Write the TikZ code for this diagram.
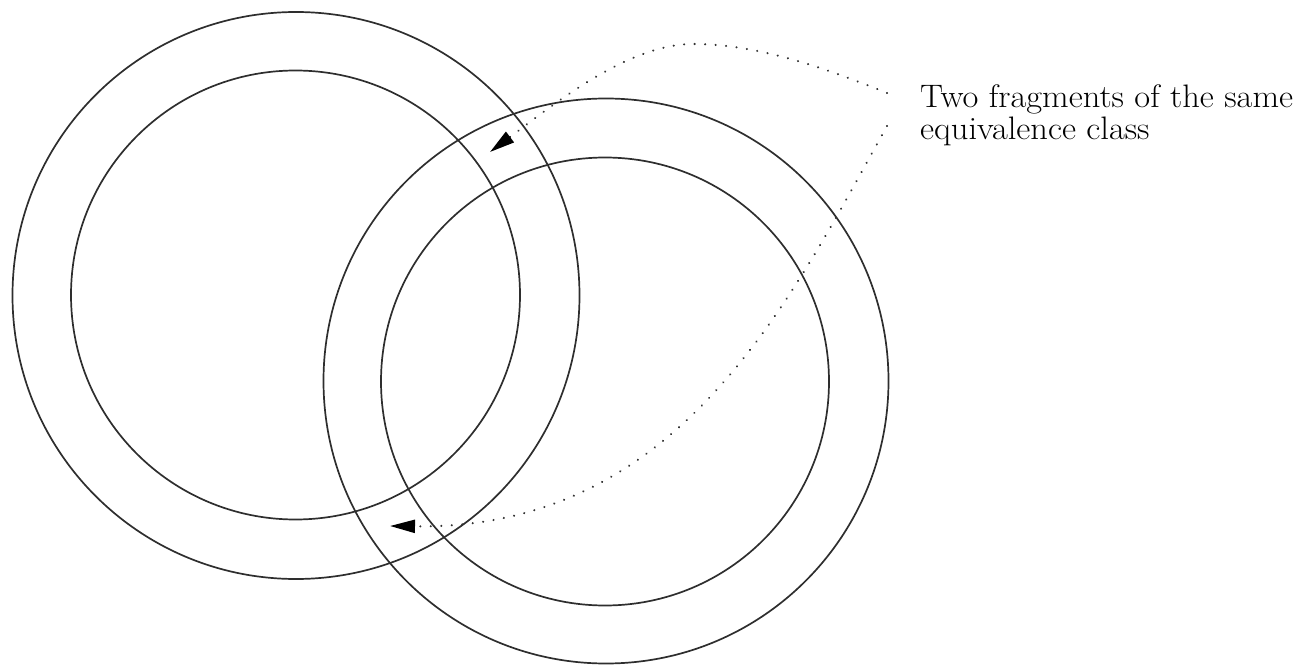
\documentclass[tikz,border=0pt]{standalone}
\usepackage{fontspec}
\newfontfamily\capfont[FakeStretch=1.06]{Latin Modern Roman}
\usetikzlibrary{arrows.meta}
\tikzset{
  ring/.style={line width=1.7bp, black!82},
  pointer/.style={line width=2.3bp, black!80, dash pattern=on 0.01bp off 10.5bp, line cap=round,
    -{Triangle[length=25bp,width=13bp,black,line cap=butt]}},
  caption/.style={font=\capfont\fontsize{32.5bp}{32bp}\selectfont, anchor=base west, inner sep=0pt}
}
\begin{document}
\begin{tikzpicture}[x=1bp,y=-1bp]
\useasboundingbox (0,0) rectangle (1295,667);
% left annulus
\draw[ring] (296,295.5) circle [radius=283.5];
\draw[ring] (295.5,295) circle [radius=224.5];
% right annulus
\draw[ring] (606,381) circle [radius=282.5];
\draw[ring] (605,381.5) circle [radius=224];
% label
\node[caption] (line1) at (920,108) {Two fragments of the same};
\node[caption] (line2) at (920,140) {equivalence class};
\coordinate (s1) at (887,93);
\coordinate (s2) at (887,126);
\coordinate (peak) at (693,44);
\coordinate (tipA) at (490,152);
\coordinate (tipB) at (390,526);
\draw[pointer] (s1) .. controls (830,70) and (760,44) .. (peak)
  .. controls (630,44) and (558,101) .. (518,131) -- (tipA);
\draw[pointer] (s2) .. controls (790,300) and (680,530) .. (tipB);
\end{tikzpicture}
\end{document}
